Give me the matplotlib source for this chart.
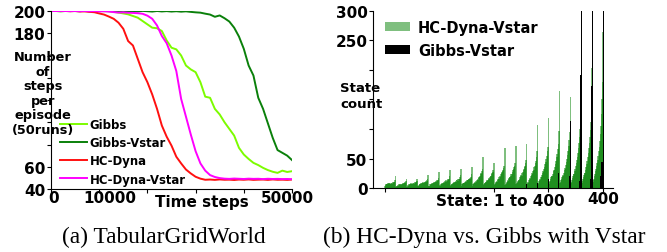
import numpy as np
import matplotlib
matplotlib.use('Agg')
import matplotlib.pyplot as plt
import matplotlib.transforms as mtransforms

# ---- left panel: steps per episode vs time steps (every 1000 steps)
steps = list(range(0, 50001, 1000))
gibbs = [200, 200, 199.8, 200, 200, 199.9, 200, 199.8, 200, 199.9, 200, 199.8,
         199.8, 199.2, 198.6, 197.8, 197, 195.5, 194, 191, 188, 185, 184.5, 182,
         173.5, 167, 165.5, 160, 151, 147.5, 145, 136, 123, 122, 112, 107, 100,
         94, 88, 77, 71, 67, 63.5, 61.5, 59, 57, 55.5, 54.5, 56.5, 55.3, 56]
gibbs_vstar = [200, 200, 199.8, 200, 199.9, 200, 199.8, 200.2, 199.7, 200, 199.8,
               200.2, 199.9, 200, 199.7, 200.1, 199.8, 200, 199.6, 200.1, 199.8,
               199.5, 200, 199.6, 199.9, 199.5, 199.8, 199.4, 199.7, 199.2, 198.8,
               198.5, 197.6, 196.8, 194.8, 196, 193.5, 190.5, 185, 177, 166, 151,
               142, 122, 112, 99, 86, 75, 72.5, 70, 66]
hc_dyna = [200, 200, 200, 200, 199.8, 200, 199.6, 199.7, 199.2, 198.9, 197.8,
           196.8, 195, 193, 189.5, 184, 173, 169, 157, 145, 136, 125, 112, 97, 87,
           79, 69, 63, 57.5, 54, 51, 49.3, 48.3, 48.5, 48.2, 48.6, 48.3, 48.4, 48.1,
           48.5, 48.3, 48.6, 48.2, 48.4, 48.5, 48.2, 48.6, 48.3, 48.4, 48.2, 48.5]
hc_dyna_vstar = [200, 200, 200, 200, 199.9, 200, 199.8, 200, 199.7, 199.9, 199.6,
                 199.8, 199.5, 199, 198.6, 198.8, 198.4, 198.3, 198, 197.5, 195.8,
                 193, 187, 177.5, 171, 160, 146, 121, 105, 89, 74, 63, 56.5, 52.5,
                 50.8, 49.8, 49.3, 49.1, 49.4, 49.2, 49.0, 49.3, 49.1, 49.2, 48.9,
                 49.2, 49.0, 49.1, 48.9, 49.0, 48.8]

# ---- right panel: state visit counts, 20 rows of 20 states
hc_rows = [
    [3, 5, 6, 7, 6, 8, 7, 9, 8, 7, 6, 8, 9, 7, 10, 9, 11, 10, 14, 20],
    [2, 3, 4, 5, 4, 6, 5, 7, 6, 5, 7, 6, 8, 7, 9, 8, 10, 9, 12, 16],
    [2, 3, 5, 4, 6, 5, 7, 6, 8, 7, 6, 8, 9, 7, 10, 9, 11, 10, 12, 16],
    [3, 4, 5, 6, 7, 6, 8, 7, 9, 8, 10, 9, 11, 10, 12, 11, 13, 12, 15, 22],
    [3, 4, 6, 5, 7, 8, 7, 9, 8, 10, 9, 11, 12, 10, 13, 12, 14, 13, 17, 27],
    [3, 5, 6, 7, 8, 7, 9, 10, 9, 11, 12, 10, 13, 12, 14, 15, 13, 16, 20, 31],
    [4, 5, 7, 6, 8, 9, 10, 9, 11, 12, 11, 13, 14, 12, 15, 16, 15, 18, 22, 33],
    [4, 6, 7, 8, 9, 8, 10, 11, 12, 11, 13, 14, 13, 15, 16, 15, 17, 19, 24, 35],
    [4, 6, 7, 9, 8, 10, 12, 11, 13, 15, 14, 17, 19, 18, 21, 23, 25, 28, 33, 52],
    [5, 6, 8, 9, 11, 10, 12, 14, 13, 15, 17, 16, 19, 21, 20, 23, 25, 27, 30, 42],
    [5, 7, 8, 10, 12, 11, 14, 16, 15, 18, 20, 19, 23, 25, 27, 29, 31, 34, 38, 68],
    [5, 7, 9, 11, 13, 12, 15, 17, 19, 18, 21, 24, 23, 27, 30, 32, 35, 38, 42, 72],
    [6, 8, 10, 12, 14, 13, 16, 18, 20, 22, 21, 25, 27, 30, 33, 35, 38, 42, 47, 75],
    [6, 8, 11, 13, 15, 17, 16, 20, 22, 25, 24, 28, 31, 35, 38, 42, 46, 52, 62, 107],
    [7, 9, 12, 14, 16, 19, 18, 22, 25, 28, 27, 32, 36, 40, 44, 49, 55, 62, 70, 118],
    [7, 10, 12, 15, 18, 21, 20, 24, 28, 31, 30, 36, 41, 46, 52, 58, 66, 75, 96, 165],
    [8, 10, 13, 16, 19, 22, 21, 26, 30, 34, 33, 39, 44, 50, 56, 63, 72, 82, 95, 154],
    [8, 11, 14, 17, 20, 24, 23, 28, 33, 37, 42, 47, 53, 60, 68, 76, 86, 100, 120, 150],
    [9, 12, 15, 18, 22, 26, 25, 30, 35, 40, 46, 52, 59, 67, 76, 86, 98, 112, 130, 204],
    [10, 13, 16, 20, 24, 28, 32, 37, 42, 48, 55, 62, 70, 80, 92, 105, 125, 150, 180, 264],
]
gibbs_states = [260, 280, 300, 318, 319, 338, 339, 340, 357, 358, 359, 360,
                377, 378, 379, 380, 396, 397, 398, 399, 400]
gibbs_counts = [6, 8, 16, 12, 25, 10, 21, 113, 12, 28, 191, 480,
                15, 30, 173, 520, 20, 30, 44, 40, 560]

hc_counts = np.concatenate(hc_rows)
states = np.arange(1, len(hc_counts) + 1)

fig = plt.figure(figsize=(6.67, 2.53), dpi=100)
bold = {'fontweight': 'bold'}

# left
ax1 = fig.add_axes([51/667, 1-190/253, 241/667, 178/253])
ax1.plot(steps, gibbs, color='#7cfc00', lw=1.4, label='Gibbs')
ax1.plot(steps, gibbs_vstar, color='#0a800a', lw=1.4, label='Gibbs-Vstar')
ax1.plot(steps, hc_dyna, color='#ff1010', lw=1.4, label='HC-Dyna')
ax1.plot(steps, hc_dyna_vstar, color='#ff00ff', lw=1.4, label='HC-Dyna-Vstar')
ax1.set_xlim(0, 50000)
ax1.set_ylim(40, 200)
ax1.set_yticks(range(40, 201, 20))
ax1.set_yticklabels(['40', '60', '', '', '', '', '', '180', '200'], fontsize=11, **bold)
ax1.set_xticks(range(0, 50001, 10000))
ax1.set_xticklabels(['0', '10000', '', '', '', '50000'], fontsize=11, **bold)
ax1.tick_params(axis='y', length=3, pad=1)
ax1.tick_params(axis='x', length=3, pad=-2)
# the tick labels sit a bit off their ticks in the original
for lab, dx in zip(ax1.get_xticklabels(), [3, 11, 0, 0, 0, -5]):
    lab.set_transform(lab.get_transform() + mtransforms.ScaledTranslation(dx/100, 0, fig.dpi_scale_trans))
for s in ['top', 'right']:
    ax1.spines[s].set_visible(False)
ax1.legend(loc='upper left', bbox_to_anchor=(0.037, 0.40), frameon=False,
           borderpad=0, borderaxespad=0, handlelength=2.3, handletextpad=0.25,
           labelspacing=0.45, prop={'size': 8.4, 'weight': 'bold'})
fig.text(43/667, 1-94/253, 'Number\nof\nsteps\nper\nepisode\n(50runs)',
         ha='center', va='center', fontsize=9.3, linespacing=1.15, **bold)
fig.text(202/667, 1-202/253, 'Time steps', ha='center', va='center', fontsize=11, **bold)

# right
ax2 = fig.add_axes([373/667, 1-189/253, 240/667, 177/253])
ax2.bar(states, hc_counts, width=3.0, color='green', alpha=0.5, linewidth=0,
        label='HC-Dyna-Vstar')
ax2.bar(gibbs_states, gibbs_counts, width=2.2, color='black', linewidth=0,
        label='Gibbs-Vstar')
ax2.set_xlim(-21, 418)
ax2.set_ylim(0, 300)
ax2.set_yticks(range(0, 301, 50))
ax2.set_yticklabels(['0', '50', '', '', '', '250', '300'], fontsize=11, **bold)
ax2.set_xticks([1, 200, 300, 400])
ax2.set_xticklabels(['', '', '', '400'], fontsize=11, **bold)
ax2.tick_params(axis='y', length=3, pad=1)
ax2.tick_params(axis='x', length=3, pad=-1)
for s in ['top', 'right']:
    ax2.spines[s].set_visible(False)
ax2.legend(loc='upper left', bbox_to_anchor=(0.05, 0.95), frameon=False,
           borderpad=0, borderaxespad=0, handlelength=1.7, handleheight=0.55,
           handletextpad=0.55, labelspacing=0.55, prop={'size': 10.5, 'weight': 'bold'})
fig.text(340/667, 1-97/253, 'State\ncount', ha='left', va='center',
         fontsize=9.5, linespacing=1.3, **bold)
fig.text(500/667, 1-202/253, 'State: 1 to 400', ha='center', va='center', fontsize=11, **bold)

# captions
fig.text(164/667, 1-237/253, '(a) TabularGridWorld', ha='center', va='center',
         fontsize=16.8, family='Liberation Serif')
fig.text(484/667, 1-237/253, '(b) HC-Dyna vs. Gibbs with Vstar', ha='center', va='center',
         fontsize=16.8, family='Liberation Serif')

fig.savefig('out.png', dpi=100)
